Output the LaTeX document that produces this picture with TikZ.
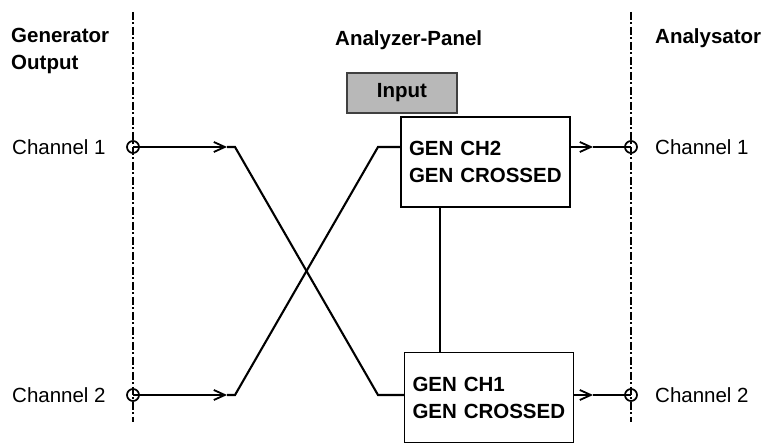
\documentclass[tikz,border=0pt]{standalone}
\usepackage{fontspec}
\setmainfont{Liberation Sans}
\usetikzlibrary{arrows.meta}

\newcommand{\labfont}{\fontsize{20.5pt}{27pt}\selectfont}

\tikzset{
  sep/.style={line width=2pt, dash pattern=on 8pt off 2.5pt on 2pt off 2.5pt},
  wire/.style={line width=2.1pt},
  barb/.style={-{Straight Barb[length=11pt,width=10pt,line width=1.8pt]}},
  port/.style={circle, draw, line width=1.7pt, minimum size=12pt, inner sep=0pt},
  panel/.style={draw, line width=1.5pt, minimum width=169pt, minimum height=90pt,
                text width=153pt, inner xsep=8pt, align=left, font=\labfont\bfseries},
  lbl/.style={font=\labfont\bfseries, align=left, inner sep=0pt},
  chan/.style={font=\labfont, inner sep=0pt, anchor=west},
}

\begin{document}
\begin{tikzpicture}[x=1pt, y=-1pt]
  \useasboundingbox (0,0) rectangle (766,443);
  % Separators
  \draw[sep] (133,12) -- (133,422);
  \draw[sep] (631,12) -- (631,422);
  % Headings
  \node[lbl, anchor=north west] (gen) at (11,28) {Generator\\Output};
  \node[lbl, anchor=north west] (pan) at (335,30) {Analyzer-Panel};
  \node[lbl, anchor=north west] (ana) at (655,28) {Analysator};
  % Channel labels
  \node[chan] (gl1) at (12,147) {Channel 1};
  \node[chan] (gl2) at (12,395) {Channel 2};
  \node[chan] (al1) at (655,147) {Channel 1};
  \node[chan] (al2) at (655,395) {Channel 2};
  % Panels
  \node[draw=black!75, line width=1.2pt, fill=black!28, minimum width=110pt,
        minimum height=40pt, font=\labfont\bfseries] (inp) at (402,93) {Input};
  \node[panel] (ch2) at (485.5,162) {GEN CH2\\GEN CROSSED};
  \node[panel] (ch1) at (489,397.5) {GEN CH1\\GEN CROSSED};
  % Bends and arrow tips
  \coordinate (t1) at (227,147);
  \coordinate (t2) at (227,395);
  \coordinate (b1) at (235,147);
  \coordinate (b2) at (235,395);
  \coordinate (c1) at (378,147);
  \coordinate (c2) at (378,395);
  \coordinate (m1) at (593,147);
  \coordinate (m2) at (593,395);
  % Crossed wiring
  \draw[wire, barb] (133,147) -- (t1);
  \draw[wire] (t1) -- (b1) -- (c2) -- (c2 -| ch1.west);
  \draw[wire, barb] (133,395) -- (t2);
  \draw[wire] (t2) -- (b2) -- (c1) -- (c1 -| ch2.west);
  \draw[wire] ([xshift=40pt]ch2.south west) -- ([xshift=40pt]ch2.south west |- ch1.north);
  % Outputs
  \draw[wire, barb] (ch2.east |- m1) -- (m1);
  \draw[wire, line width=2.8pt] (m1) -- (631,147);
  \draw[wire, barb] (ch1.east |- m2) -- (m2);
  \draw[wire, line width=2.8pt] (m2) -- (631,395);
  % Ports
  \foreach \n/\p in {g1/{(133,147)}, g2/{(133,395)}, a1/{(631,147)}, a2/{(631,395)}}{
    \node[port] (\n) at \p {};
  }
\end{tikzpicture}
\end{document}
